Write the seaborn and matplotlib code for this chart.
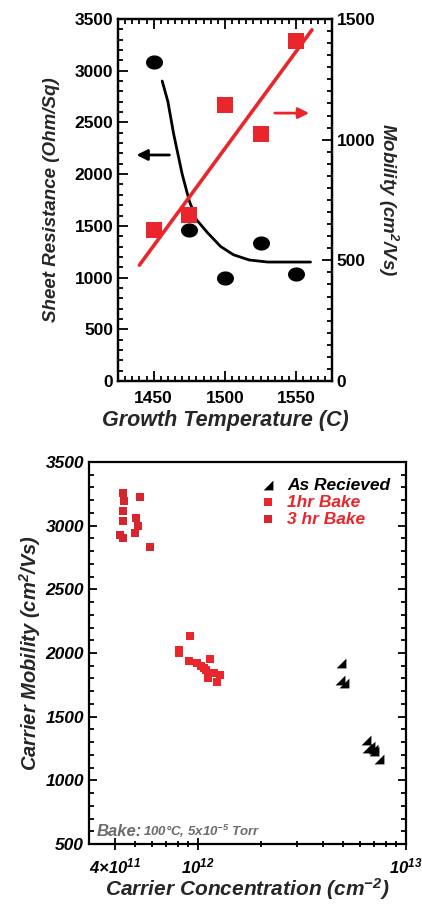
import numpy as np
import seaborn as sns
import matplotlib.pyplot as plt
from matplotlib.path import Path
from matplotlib.ticker import MultipleLocator, FixedLocator, NullFormatter

# --- top panel data ---
growth_temp = [1450, 1475, 1500, 1525, 1550]
sheet_res = [3080, 1460, 1000, 1330, 1030]
mobility = [625, 686, 1144, 1024, 1410]

curve_temp = [1456, 1460, 1464, 1470, 1475, 1480, 1488, 1497, 1506, 1517, 1530, 1545, 1560]
curve_res = [2900, 2700, 2390, 2000, 1740, 1560, 1430, 1300, 1220, 1170, 1150, 1150, 1150]

fit_temp = [1440, 1561]
fit_mob = [480, 1455]

# --- bottom panel data ---
asrec_conc = [4.85e12, 4.8e12, 5.05e12, 6.45e12, 6.5e12, 6.75e12, 6.95e12, 7.05e12, 7.45e12]
asrec_mob = [1925, 1785, 1765, 1320, 1255, 1270, 1245, 1230, 1170]

bake1_conc = [9.2e11, 8.1e11, 8.1e11, 9.05e11, 9.9e11, 1.03e12, 1.14e12, 1.1e12, 1.12e12,
              1.19e12, 1.24e12, 1.28e12, 1.07e12]
bake1_mob = [2135, 2025, 2000, 1940, 1925, 1900, 1955, 1870, 1805, 1840, 1775, 1830, 1885]

bake3_conc = [4.39e11, 4.41e11, 5.25e11, 4.39e11, 4.35e11, 5.03e11, 5.15e11, 5.0e11,
              4.23e11, 4.39e11, 5.86e11]
bake3_mob = [3260, 3190, 3224, 3118, 3033, 3061, 2994, 2943, 2930, 2900, 2830]

RED = "#e8262b"
RED_DARK = "#d6252c"
GRAY = "#6b6b6b"

sns.set_style("ticks", {"axes.edgecolor": "black", "xtick.color": "black",
                        "ytick.color": "black", "axes.axisbelow": False})
plt.rcParams.update({
    "font.family": ["Liberation Sans", "DejaVu Sans"],
    "font.weight": "bold",
    "mathtext.fontset": "custom",
    "mathtext.rm": "Liberation Sans:bold:italic",
    "mathtext.it": "Liberation Sans:bold:italic",
    "mathtext.bf": "Liberation Sans:bold:italic",
    "xtick.direction": "in", "ytick.direction": "in",
    "xtick.major.size": 7, "xtick.minor.size": 3.5,
    "ytick.major.size": 7, "ytick.minor.size": 3.5,
    "xtick.major.width": 1.3, "xtick.minor.width": 1.3,
    "ytick.major.width": 1.3, "ytick.minor.width": 1.3,
    "xtick.labelsize": 12.5, "ytick.labelsize": 12.5,
    "axes.linewidth": 1.6,
})

fig = plt.figure(figsize=(4.22, 9.08), dpi=100)


def refresh():
    # draw as we go so the tick marks are built with the settings above
    fig.canvas.draw()


# ================= top panel =================
ax1 = fig.add_axes([0.2796, 0.5804, 0.507, 0.3987])
ax2 = ax1.twinx()

t = np.linspace(0, 2 * np.pi, 40)
ellipse = Path(np.column_stack([1.2 * np.cos(t), np.sin(t)]))

sns.lineplot(x=fit_temp, y=fit_mob, ax=ax2, color=RED, lw=2.6)
sns.scatterplot(x=growth_temp, y=mobility, ax=ax2, color=RED, marker="s", s=120,
                linewidth=0, zorder=5)
sns.lineplot(x=curve_temp, y=curve_res, ax=ax1, color="black", lw=2, sort=False)
sns.scatterplot(x=growth_temp, y=sheet_res, ax=ax1, color="black", marker=ellipse,
                s=150, linewidth=0, zorder=5)

ax1.set_xlim(1425, 1575)
ax1.set_ylim(0, 3500)
ax2.set_ylim(0, 1500)
ax1.xaxis.set_major_locator(FixedLocator([1450, 1500, 1550]))
ax1.xaxis.set_minor_locator(MultipleLocator(5))
refresh()

ax1.annotate("", xy=(1436, 2185), xytext=(1463, 2185),
             arrowprops=dict(arrowstyle="-|>", color="black", lw=2, mutation_scale=16))
ax1.annotate("", xy=(1561, 2590), xytext=(1533, 2590),
             arrowprops=dict(arrowstyle="-|>", color=RED, lw=2, mutation_scale=16))
refresh()

ax1.yaxis.set_major_locator(MultipleLocator(500))
ax1.yaxis.set_minor_locator(MultipleLocator(100))
ax2.yaxis.set_major_locator(MultipleLocator(500))
ax2.yaxis.set_minor_locator(MultipleLocator(50))
refresh()

ax1.tick_params(axis="x", which="both", top=True, bottom=True, pad=7)
ax1.tick_params(axis="y", which="both", left=True, right=False)
ax2.tick_params(axis="y", which="both", right=True, left=False)
refresh()
for lab in ax1.get_xticklabels() + ax1.get_yticklabels() + ax2.get_yticklabels():
    lab.set_fontweight("bold")
refresh()

for a in (ax1, ax2):
    for sp in a.spines.values():
        sp.set_visible(True)
refresh()

ax1.set_xlabel("Growth Temperature (C)", fontsize=15.5, fontstyle="italic",
               fontweight="bold", labelpad=3)
ax1.set_ylabel("Sheet Resistance (Ohm/Sq)", fontsize=13.5, fontstyle="italic",
               fontweight="bold", labelpad=10)
ax2.set_ylabel("Mobility (cm$^2$/Vs)", fontsize=13.5, fontstyle="italic",
               fontweight="bold", rotation=270, labelpad=18)
refresh()

# ================= bottom panel =================
ax3 = fig.add_axes([0.2109, 0.0705, 0.7512, 0.4207])

tri = Path([(-1, -1), (1, -1), (1, 1), (-1, -1)])
sns.scatterplot(x=asrec_conc, y=asrec_mob, ax=ax3, color="black", marker=tri, s=50,
                linewidth=0, label="As Recieved", zorder=5)
sns.scatterplot(x=bake1_conc, y=bake1_mob, ax=ax3, color=RED, marker="s", s=38,
                linewidth=0, label="1hr Bake", zorder=5)
sns.scatterplot(x=bake3_conc, y=bake3_mob, ax=ax3, color=RED_DARK, marker="s", s=38,
                linewidth=0, label="3 hr Bake", zorder=5)
refresh()

ax3.set_xscale("log")
ax3.set_xlim(3e11, 1e13)
ax3.set_ylim(500, 3500)
ax3.xaxis.set_major_locator(FixedLocator([4e11, 1e12, 1e13]))
ax3.set_xticklabels(["4×10$^{11}$", "$10^{12}$", "$10^{13}$"])
ax3.xaxis.set_minor_locator(FixedLocator([5e11, 6e11, 7e11, 8e11, 9e11] +
                                         [k * 1e12 for k in range(2, 10)]))
ax3.xaxis.set_minor_formatter(NullFormatter())
ax3.yaxis.set_major_locator(MultipleLocator(500))
ax3.yaxis.set_minor_locator(MultipleLocator(100))
refresh()

ax3.tick_params(axis="x", which="both", direction="inout", top=False, bottom=True,
                labelsize=12, pad=5)
ax3.tick_params(axis="x", which="major", length=8)
ax3.tick_params(axis="x", which="minor", length=5)
ax3.tick_params(axis="y", which="both", left=True, right=True)
ax3.tick_params(axis="y", which="major", length=6)
for lab in ax3.get_yticklabels() + ax3.get_xticklabels():
    lab.set_fontweight("bold")
    lab.set_fontstyle("italic")
for sp in ax3.spines.values():
    sp.set_visible(True)
refresh()

ax3.set_xlabel("Carrier Concentration (cm$^{-2}$)", fontsize=15, fontstyle="italic",
               fontweight="bold", labelpad=0)
ax3.set_ylabel("Carrier Mobility (cm$^2$/Vs)", fontsize=14.5, fontstyle="italic",
               fontweight="bold", labelpad=2)

leg = ax3.legend(loc="upper right", frameon=False, fontsize=12.5, handletextpad=0.6,
                 labelspacing=0.1, borderaxespad=0.5, handlelength=1.0,
                 labelcolor=["black", RED, RED])
for txt in leg.get_texts():
    txt.set_fontstyle("italic")
    txt.set_fontweight("bold")

ax3.text(0.025, 0.022, "Bake:", transform=ax3.transAxes, color=GRAY, fontsize=12,
         fontstyle="italic", fontweight="bold")
ax3.text(0.17, 0.022, "100°C, 5x10$^{-5}$ Torr", transform=ax3.transAxes, color=GRAY,
         fontsize=9.5, fontstyle="italic", fontweight="bold")
refresh()

fig.savefig("out.png", dpi=100)
